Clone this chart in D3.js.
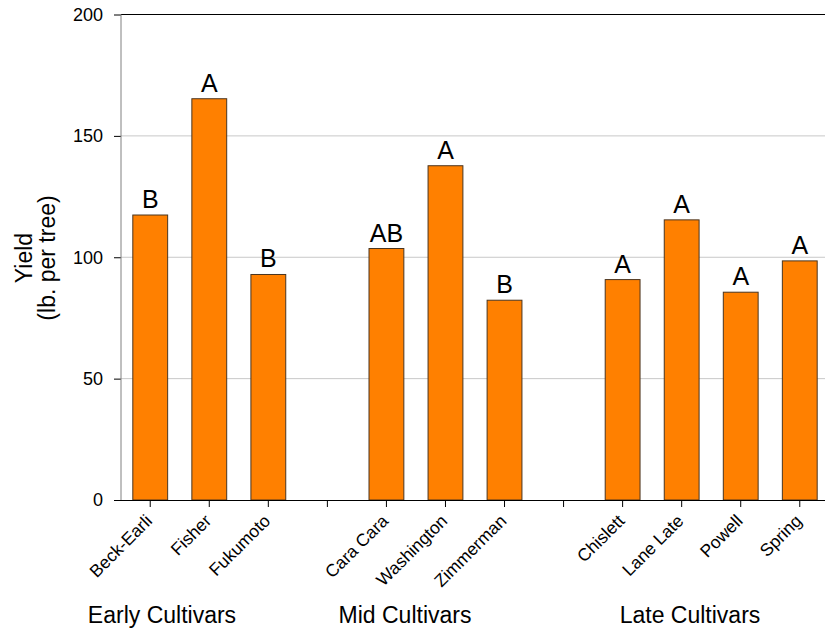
<!DOCTYPE html>
<html><head><meta charset="utf-8">
<script src="https://cdn.jsdelivr.net/npm/d3@7"></script>
<style>body{margin:0;background:#fff}svg{display:block}text{font-family:Arial,"Liberation Sans",sans-serif}</style>
</head><body><svg id="c" width="825" height="634"></svg>
<script>
const slots = ["Beck-Earli","Fisher","Fukumoto","gap1","Cara Cara","Washington","Zimmerman","gap2","Chislett","Lane Late","Powell","Spring"];
const cultivars = ["Beck-Earli","Fisher","Fukumoto","Cara Cara","Washington","Zimmerman","Chislett","Lane Late","Powell","Spring"];
const yields = [117.4,165.3,92.9,103.6,137.7,82.3,90.8,115.4,85.6,98.5];
const letters = ["B","A","B","AB","A","B","A","A","A","A"];
const groups = ["Early Cultivars","Mid Cultivars","Late Cultivars"];
const yTicks = [0,50,100,150,200];

// layout (not data): centre x of each group caption, in pixels
const GROUP_LABEL_X = [162, 405, 690];

const FONT = "Arial,'Liberation Sans',sans-serif";
const svg = d3.select("#c");
const x = d3.scaleBand().domain(slots).range([121,829]).paddingInner(0.41).paddingOuter(0.2);
const y = d3.scaleLinear().domain([0,200]).range([500,14.5]);

// gridlines
svg.append("g").selectAll("line").data(yTicks.filter(t=>t>0&&t<200)).join("line")
  .attr("x1",121).attr("x2",825).attr("y1",d=>y(d)).attr("y2",d=>y(d))
  .attr("stroke","#c8c8c8").attr("stroke-width",1);
// top line
svg.append("line").attr("x1",121).attr("x2",825).attr("y1",y(200)).attr("y2",y(200)).attr("stroke","#000");

// bars
const data = cultivars.map((c,i)=>({c,v:yields[i],l:letters[i]}));
svg.append("g").selectAll("rect").data(data).join("rect")
  .attr("x",d=>x(d.c)).attr("width",x.bandwidth())
  .attr("y",d=>y(d.v)).attr("height",d=>y(0)-y(d.v))
  .attr("fill","#FF8000").attr("stroke","#4a3520").attr("stroke-width",1);
svg.append("g").selectAll("text").data(data).join("text")
  .attr("x",d=>x(d.c)+x.bandwidth()/2).attr("y",d=>y(d.v)-7)
  .attr("text-anchor","middle").attr("font-size",25).text(d=>d.l);

// y axis
const ya = svg.append("g").attr("transform","translate(121,0)")
  .call(d3.axisLeft(y).tickValues(yTicks).tickSize(7).tickPadding(11));
ya.select(".domain").remove();
ya.selectAll("text").attr("font-size",18).attr("fill","#000").style("font-family",FONT);
ya.selectAll(".tick line").attr("stroke","#000");
svg.append("line").attr("x1",121).attr("x2",121).attr("y1",y(200)).attr("y2",y(0)).attr("stroke","#808080");

// x axis
const xa = svg.append("g").attr("transform","translate(0,500)")
  .call(d3.axisBottom(x).tickSize(7).tickFormat(d=>d.startsWith("gap")?"":d));
xa.select(".domain").attr("d","M121,0.5H825").attr("stroke","#000");
xa.selectAll(".tick line").attr("stroke","#000");
xa.selectAll("text").attr("font-size",17.5).attr("fill","#000")
  .style("font-family",FONT)
  .attr("text-anchor","end").attr("dy",0).attr("y",0)
  .attr("transform","translate(3,22) rotate(-45)");

// group labels
svg.append("g").selectAll("text").data(groups).join("text")
  .attr("x",(g,i)=>GROUP_LABEL_X[i])
  .attr("y",623).attr("text-anchor","middle").attr("font-size",23).text(d=>d);

// y title
const yt = svg.append("text").attr("transform","translate(32,258) rotate(-90)").attr("text-anchor","middle").attr("font-size",23);
yt.append("tspan").attr("x",0).attr("dy",0).text("Yield");
yt.append("tspan").attr("x",0).attr("dy",23).text("(lb. per tree)");
</script></body></html>
